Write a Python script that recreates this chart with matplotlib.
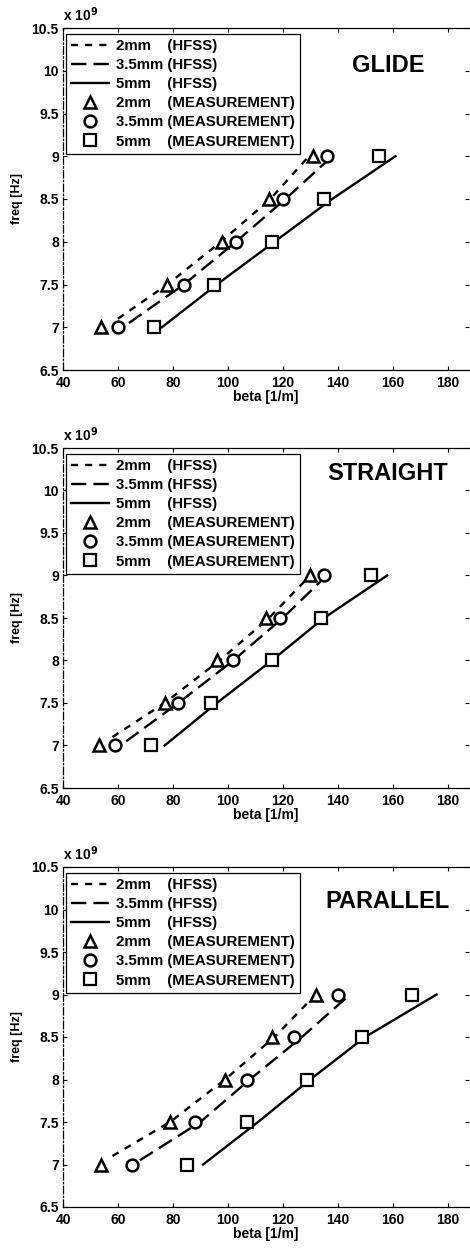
import matplotlib
matplotlib.use("Agg")
import matplotlib.pyplot as plt

plt.rcParams['font.family'] = ['Liberation Sans', 'DejaVu Sans']
plt.rcParams['font.weight'] = 'bold'

# measured points (freq in units of 1e9 Hz, beta in 1/m)
meas_freq = [7.0, 7.5, 8.0, 8.5, 9.0]

glide_meas_2 = [54, 78, 98, 115, 131]
glide_meas_35 = [60, 84, 103, 120, 136]
glide_meas_5 = [73, 95, 116, 135, 155]

straight_meas_2 = [53, 77, 96, 114, 130]
straight_meas_35 = [59, 82, 102, 119, 135]
straight_meas_5 = [72, 94, 116, 134, 152]

parallel_meas_2 = [54, 79, 99, 116, 132]
parallel_meas_35 = [65, 88, 107, 124, 140]
parallel_meas_5 = [85, 107, 129, 149, 167]

# HFSS simulated curves
hfss_freq_2 = [7.1, 7.5, 8.0, 8.5, 9.0]
hfss_freq_35 = [7.05, 7.5, 8.0, 8.5, 9.0]
hfss_freq_5 = [7.0, 7.5, 8.0, 8.5, 9.0]

glide_hfss_2 = [60, 78, 97.5, 115.5, 129.5]
glide_hfss_35 = [64, 84, 103, 121, 138]
glide_hfss_5 = [76, 96, 117, 138, 161]

straight_hfss_2 = [58, 77, 97, 115, 130]
straight_hfss_35 = [63, 82, 102, 120, 136]
straight_hfss_5 = [77, 96, 116, 135, 158]

parallel_hfss_2 = [58, 79, 99, 117, 132]
parallel_hfss_35 = [68, 90, 108, 127, 144.5]
parallel_hfss_5 = [91, 111, 130, 150, 176]

titles = ['GLIDE', 'STRAIGHT', 'PARALLEL']
title_y = [0.89, 0.925, 0.90]
yticks = [6.5, 7, 7.5, 8, 8.5, 9, 9.5, 10, 10.5]
ytick_labels = ['6.5', '7', '7.5', '8', '8.5', '9', '9.5', '10', '10.5']
xticks = [40, 60, 80, 100, 120, 140, 160, 180]

panels = [
    (glide_hfss_2, glide_hfss_35, glide_hfss_5, glide_meas_2, glide_meas_35, glide_meas_5),
    (straight_hfss_2, straight_hfss_35, straight_hfss_5, straight_meas_2, straight_meas_35, straight_meas_5),
    (parallel_hfss_2, parallel_hfss_35, parallel_hfss_5, parallel_meas_2, parallel_meas_35, parallel_meas_5),
]

W, H = 470, 1250
fig = plt.figure(figsize=(W / 100, H / 100), dpi=100)

# axes pixel boxes (top, bottom)
boxes = [(28, 370), (448, 788), (867, 1207)]
left_px, right_px = 63, 469

short_dash = (0, (3.0, 3.0))
long_dash = (0, (6.5, 3.0))

for i, (box, data) in enumerate(zip(boxes, panels)):
    top, bottom = box
    ax = fig.add_axes([left_px / W, 1 - bottom / H, (right_px - left_px) / W, (bottom - top) / H])
    h2, h35, h5, m2, m35, m5 = data

    ax.plot(h2, hfss_freq_2, color='black', lw=1.7, ls=short_dash, label='2mm    (HFSS)')
    ax.plot(h35, hfss_freq_35, color='black', lw=1.7, ls=long_dash, label='3.5mm (HFSS)')
    ax.plot(h5, hfss_freq_5, color='black', lw=1.7, ls='-', label='5mm    (HFSS)')
    ax.plot(m2, meas_freq, ls='none', marker='^', ms=8.5, mfc='white', mec='black', mew=1.8,
            label='2mm    (MEASUREMENT)')
    ax.plot(m35, meas_freq, ls='none', marker='o', ms=8.5, mfc='white', mec='black', mew=1.8,
            label='3.5mm (MEASUREMENT)')
    ax.plot(m5, meas_freq, ls='none', marker='s', ms=8, mfc='white', mec='black', mew=1.6,
            label='5mm    (MEASUREMENT)')

    ax.set_xlim(40, 187.8)
    ax.set_ylim(6.5, 10.5)
    ax.set_xticks(xticks)
    ax.set_yticks(yticks)
    ax.set_yticklabels(ytick_labels)
    ax.tick_params(direction='in', length=3, width=0.8, top=True, right=True,
                   labelsize=10)
    ax.tick_params(axis='x', pad=4)
    ax.tick_params(axis='y', pad=3)
    for lab in ax.get_xticklabels() + ax.get_yticklabels():
        lab.set_fontweight('bold')
    ax.spines['right'].set_visible(False)
    ax.spines['left'].set_linestyle((0, (6, 2, 1, 2)))
    for s in ax.spines.values():
        s.set_linewidth(0.9)

    ax.set_xlabel('beta [1/m]', fontsize=10, fontweight='bold', labelpad=0)
    ax.set_ylabel('freq [Hz]', fontsize=9, fontweight='bold', labelpad=6)
    ax.text(0.0, 1.012, r'x 10$^{\mathbf{9}}$', transform=ax.transAxes, fontsize=10,
            fontweight='bold', ha='left', va='bottom')
    ax.text(0.80, title_y[i], titles[i], transform=ax.transAxes, fontsize=17,
            fontweight='bold', ha='center', va='center')

    leg = ax.legend(loc='upper left', bbox_to_anchor=(0.008, 0.983), fontsize=10.8,
                    frameon=True, fancybox=False, framealpha=1, edgecolor='black',
                    handlelength=2.5, handletextpad=0.5, labelspacing=0.34,
                    borderpad=0.35, borderaxespad=0.0, markerscale=1.0)
    leg.get_frame().set_linewidth(0.9)
    for t in leg.get_texts():
        t.set_fontweight('bold')

fig.savefig('out.png', dpi=100)
